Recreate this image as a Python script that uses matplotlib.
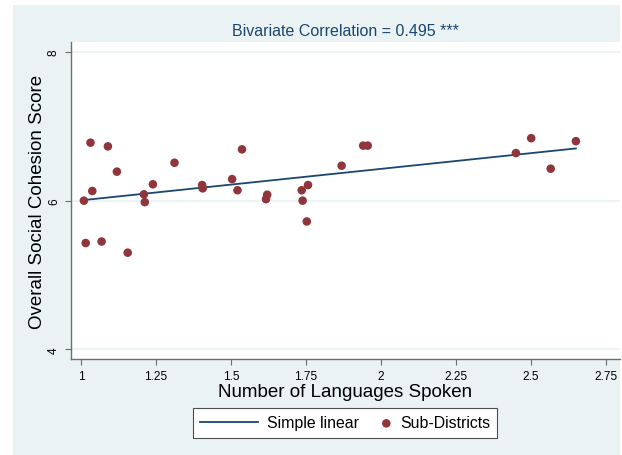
"""Scatter of social cohesion score vs. number of languages spoken, with a linear fit."""

import matplotlib

matplotlib.use("Agg")
import matplotlib.pyplot as plt
import numpy as np
from matplotlib.legend_handler import HandlerPathCollection
from matplotlib.patches import Rectangle

plt.rcParams["font.family"] = ["Liberation Sans", "DejaVu Sans"]

LANGUAGES = [
    1.010, 1.032, 1.038, 1.090, 1.120, 1.210, 1.213, 1.240, 1.312, 1.404,
    1.406, 1.504, 1.522, 1.537, 1.617, 1.621, 1.736, 1.739, 1.757, 1.753,
    1.869, 1.016, 1.069, 1.156, 1.941, 1.956, 2.450, 2.501, 2.566, 2.650,
]
COHESION = [
    6.00, 6.78, 6.13, 6.73, 6.39, 6.085, 5.98, 6.22, 6.51, 6.21,
    6.165, 6.29, 6.14, 6.69, 6.02, 6.08, 6.14, 6.00, 6.21, 5.72,
    6.47, 5.43, 5.45, 5.30, 6.74, 6.74, 6.64, 6.84, 6.43, 6.80,
]
X_TICKS = [1, 1.25, 1.5, 1.75, 2, 2.25, 2.5, 2.75]
X_TICK_LABELS = ["1", "1.25", "1.5", "1.75", "2", "2.25", "2.5", "2.75"]
Y_TICKS = [4, 6, 8]
TITLE = "Bivariate Correlation = 0.495 ***"

BG = "#EAF2F3"
NAVY = "#1A476F"
MAROON = "#90353B"
AXIS_GREY = "#6E6E6E"


class _RightMarkerHandler(HandlerPathCollection):
    """Put the single legend marker at the right end of its handle box."""

    def get_xdata(self, legend, xdescent, ydescent, width, height, fontsize):
        xd = np.array([-xdescent + width - 0.3 * fontsize])
        return xd, xd


def main() -> None:
    x = np.array(LANGUAGES)
    y = np.array(COHESION)

    fig = plt.figure(figsize=(6.22, 4.56), dpi=100)
    fig.patches.append(
        Rectangle((13 / 622, 0), 607 / 622, 450 / 456, transform=fig.transFigure,
                  facecolor=BG, edgecolor="none", zorder=-10)
    )

    ax = fig.add_axes([71 / 622, 96 / 456, 549 / 622, 317 / 456])
    ax.set_facecolor("white")

    for val in Y_TICKS:
        ax.axhline(val, color=BG, lw=1.2, zorder=1)

    slope, intercept = np.polyfit(x, y, 1)
    fit_x = np.array([x.min(), x.max()])
    ax.plot(fit_x, intercept + slope * fit_x, color=NAVY, lw=1.3, zorder=2,
            label="Simple linear")
    dots = ax.scatter(x, y, s=38, color=MAROON, edgecolors="none", zorder=3,
                      label="Sub-Districts")

    ax.set_xlim(0.967, 2.797)
    ax.set_ylim(3.87, 8.134)
    ax.set_xticks(X_TICKS)
    ax.set_xticklabels(X_TICK_LABELS)
    ax.set_yticks(Y_TICKS)
    ax.set_yticklabels([str(v) for v in Y_TICKS], rotation=90, va="center")

    for side in ("top", "right"):
        ax.spines[side].set_visible(False)
    for side in ("left", "bottom"):
        ax.spines[side].set_color(AXIS_GREY)
        ax.spines[side].set_linewidth(1.0)
    ax.tick_params(direction="out", length=4, width=0.8, color=AXIS_GREY,
                   labelsize=8.6, labelcolor="black", pad=4)

    ax.set_xlabel("Number of Languages Spoken", fontsize=13.5, labelpad=1)
    ax.set_ylabel("Overall Social Cohesion Score", fontsize=13.5, labelpad=1)
    fig.text(345 / 622, 1 - 32 / 456, TITLE, ha="center", va="center",
             fontsize=11.5, color=NAVY)

    leg = fig.legend(loc="center", bbox_to_anchor=(345 / 622, 1 - 424 / 456),
                     bbox_transform=fig.transFigure, ncol=2, fontsize=11.4,
                     frameon=True, fancybox=False, edgecolor="#4D4D4D",
                     framealpha=1, handlelength=3.7, columnspacing=-1.7,
                     handletextpad=0.57, borderpad=0.45,
                     handler_map={dots: _RightMarkerHandler()})
    leg.get_frame().set_linewidth(0.8)

    fig.savefig("out.png", dpi=100)
    plt.close(fig)


if __name__ == "__main__":
    main()
